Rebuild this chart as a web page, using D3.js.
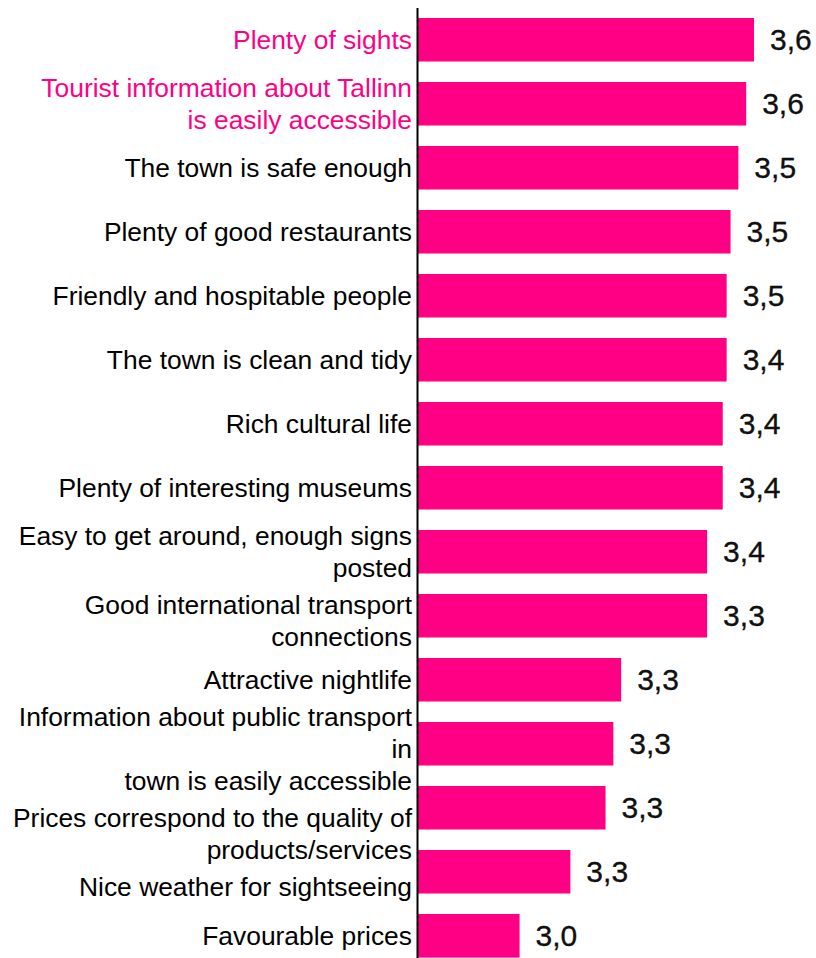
<!DOCTYPE html>
<html>
<head>
<meta charset="utf-8">
<script src="https://cdn.jsdelivr.net/npm/d3@7/dist/d3.min.js"></script>
<style>
  html, body { margin: 0; padding: 0; background: #fff; }
  svg { display: block; }
</style>
</head>
<body>
<svg id="chart" width="816" height="958"></svg>
<script>
// ---- data ----
const categories = [
  "Plenty of sights",
  "Tourist information about Tallinn\nis easily accessible",
  "The town is safe enough",
  "Plenty of good restaurants",
  "Friendly and hospitable people",
  "The town is clean and tidy",
  "Rich cultural life",
  "Plenty of interesting museums",
  "Easy to get around, enough signs\nposted",
  "Good international transport\nconnections",
  "Attractive nightlife",
  "Information about public transport\nin\ntown is easily accessible",
  "Prices correspond to the quality of\nproducts/services",
  "Nice weather for sightseeing",
  "Favourable prices"
];
// bar lengths as drawn
const barValues = [3.60, 3.58, 3.56, 3.54, 3.53, 3.53, 3.52, 3.52, 3.48, 3.48, 3.26, 3.24, 3.22, 3.13, 3.00];
// values printed next to the bars
const shownValues = [3.6, 3.6, 3.5, 3.5, 3.5, 3.4, 3.4, 3.4, 3.4, 3.3, 3.3, 3.3, 3.3, 3.3, 3.0];
const highlighted = [true, true, false, false, false, false, false, false, false, false, false, false, false, false, false];

// ---- layout ----
const pink = "#ff0084";
const axisX = 418;
const svg = d3.select("#chart");

const x = d3.scaleLinear().domain([2.74, 3.6]).range([axisX, 754]);
const y = d3.scaleBand()
  .domain(d3.range(categories.length))
  .range([7.76, 7.76 + 64 * categories.length])
  .paddingInner(0.32)
  .paddingOuter(0.16);

const rows = categories.map((c, i) => ({
  cat: c, bar: barValues[i], shown: shownValues[i], hl: highlighted[i], i
}));

// bars
svg.append("g").selectAll("rect")
  .data(rows)
  .join("rect")
  .attr("x", x(x.domain()[0]))
  .attr("y", d => y(d.i))
  .attr("width", d => x(d.bar) - x(x.domain()[0]))
  .attr("height", y.bandwidth())
  .attr("fill", pink);

// axis line
svg.append("line")
  .attr("x1", axisX - 0.5).attr("x2", axisX - 0.5)
  .attr("y1", 8).attr("y2", 958)
  .attr("stroke", "#000").attr("stroke-width", 2);

// category labels: centred on the band, pushed down when they would collide
const lineH = 32;
const minGap = 37;
const labels = svg.append("g")
  .attr("font-family", "'Liberation Sans', Arial, sans-serif")
  .attr("font-size", "26.4px")
  .attr("text-anchor", "end");
let prevLast = -Infinity;
rows.forEach(d => {
  const lines = d.cat.split("\n");
  const cy = y(d.i) + y.bandwidth() / 2;
  let firstCenter = cy - (lines.length - 1) * lineH / 2;
  firstCenter = Math.max(firstCenter, prevLast + minGap);
  prevLast = firstCenter + (lines.length - 1) * lineH;
  const t = labels.append("text")
    .attr("fill", d.hl ? pink : "#000");
  lines.forEach((ln, k) => {
    t.append("tspan").attr("x", 412).attr("y", firstCenter + k * lineH + 9.5).text(ln);
  });
});

// value labels
const fmt = v => d3.format(".1f")(v).replace(".", ",");
svg.append("g")
  .attr("font-family", "'Liberation Sans', Arial, sans-serif")
  .attr("font-size", "30px")
  .selectAll("text")
  .data(rows)
  .join("text")
  .attr("x", d => x(d.bar) + 16)
  .attr("y", d => y(d.i) + y.bandwidth() / 2 + 10.5)
  .attr("fill", "#111")
  .attr("stroke", "#000")
  .attr("stroke-width", 0.3)
  .text(d => fmt(d.shown));
</script>
</body>
</html>
